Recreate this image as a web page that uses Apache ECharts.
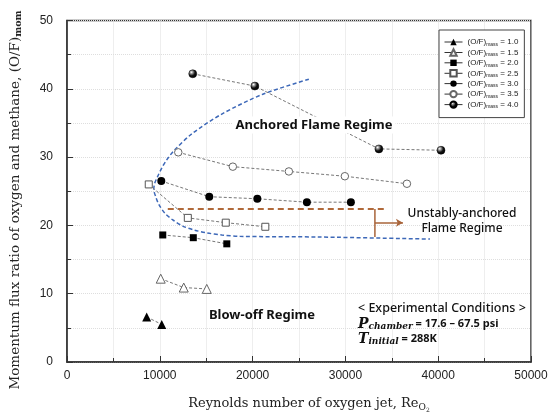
<!DOCTYPE html>
<html><head><meta charset="utf-8">
<script src="https://cdn.jsdelivr.net/npm/echarts@6/dist/echarts.min.js"></script>
<style>html,body{margin:0;padding:0;background:#fff}#c{width:553px;height:418px}</style>
</head><body><div id="c"></div>
<script>
// ---- data (Re_O2, (O/F)_mom) ----
const legendNames = ['1.0','1.5','2.0','2.5','3.0','3.5','4.0'];
const re_10 = [8590, 10210];                 const mom_10 = [6.6, 5.5];
const re_15 = [10100, 12580, 15060];         const mom_15 = [12.2, 10.9, 10.7];
const re_20 = [10320, 13610, 17220];         const mom_20 = [18.6, 18.2, 17.3];
const re_25 = [8810, 13020, 17110, 21370];   const mom_25 = [26.0, 21.1, 20.4, 19.8];
const re_30 = [10160, 15330, 20510, 25850, 30590]; const mom_30 = [26.5, 24.2, 23.9, 23.4, 23.4];
const re_35 = [11990, 17870, 23910, 29940, 36630]; const mom_35 = [30.7, 28.6, 27.9, 27.2, 26.1];
const re_40 = [13550, 20240, 33610, 40300];  const mom_40 = [42.2, 40.4, 31.2, 31.0];
// regime boundary (blue dashed)
const boundaryRe  = [26060, 21100, 16680, 13450, 11500, 10750, 10210, 9780, 9460, 9350, 9560, 9890, 10540, 11400, 12480, 13770, 15060, 16680, 18620, 27250, 39110];
const boundaryMom = [41.4, 39.2, 36.3, 33.4, 30.9, 29.6, 28.4, 27.2, 26.2, 25.3, 24.2, 23.1, 21.8, 20.8, 19.9, 19.3, 18.9, 18.6, 18.4, 18.3, 18.0];
// unstably-anchored limit (brown)
const unstableRe  = [10860, 34370];  const unstableMom = [22.4, 22.4];
const bracketRe   = [33180, 33180];  const bracketMom  = [22.4, 18.3];
const arrowRe     = [33180, 36200];  const arrowMom    = [20.4, 20.4];
const xTicks = [0, 10000, 20000, 30000, 40000, 50000];
const yTicks = [0, 10, 20, 30, 40, 50];

const zip = (a, b) => a.map((v, i) => [v, b[i]]);
const sans = '"Liberation Sans", Arial, sans-serif';
const serif = '"DejaVu Serif", serif';
const kfont = '"Noto Sans", sans-serif';
const dotLine = { color: '#777', width: 1, type: [3, 2] };

const sphere = { type: 'radial', x: 0.35, y: 0.32, r: 0.75,
  colorStops: [{ offset: 0, color: '#fff' }, { offset: 0.22, color: '#999' }, { offset: 0.55, color: '#111' }, { offset: 1, color: '#000' }] };

const defs = [
  { re: re_10, mom: mom_10, symbol: 'triangle', size: 9, item: { color: '#000' } },
  { re: re_15, mom: mom_15, symbol: 'triangle', size: 9, item: { color: '#fff', borderColor: '#666', borderWidth: 1 } },
  { re: re_20, mom: mom_20, symbol: 'rect', size: 7, item: { color: '#000' } },
  { re: re_25, mom: mom_25, symbol: 'rect', size: 7, item: { color: '#fff', borderColor: '#555', borderWidth: 1 } },
  { re: re_30, mom: mom_30, symbol: 'circle', size: 8, item: { color: '#000' } },
  { re: re_35, mom: mom_35, symbol: 'circle', size: 7.5, item: { color: '#fff', borderColor: '#666', borderWidth: 1 } },
  { re: re_40, mom: mom_40, symbol: 'circle', size: 8, item: { color: sphere, borderColor: '#000', borderWidth: 0.5 } }
];

const series = [
  { type: 'line', name: 'boundary', data: zip(boundaryRe, boundaryMom), smooth: 0.3, showSymbol: false, silent: true,
    lineStyle: { color: '#3d68b8', width: 1.5, type: [4, 2.5] }, z: 1 },
  { type: 'line', name: 'unstable', data: zip(unstableRe, unstableMom), showSymbol: false, silent: true,
    lineStyle: { color: '#b0693a', width: 2, type: [6, 4] }, z: 1 },
  { type: 'line', name: 'bracket', data: zip(bracketRe, bracketMom), showSymbol: false, silent: true,
    lineStyle: { color: '#a8643a', width: 1.5 }, z: 1 },
  { type: 'line', name: 'arrow', data: [], silent: true, z: 1,
    markLine: { silent: true, symbol: ['none', 'arrow'], symbolSize: [6, 7], label: { show: false },
      lineStyle: { color: '#a8643a', width: 1.5, type: 'solid' },
      data: [[{ coord: [arrowRe[0], arrowMom[0]] }, { coord: [arrowRe[1], arrowMom[1]] }]] } }
];
defs.forEach((d, i) => series.push({
  type: 'line', name: legendNames[i], data: zip(d.re, d.mom), symbol: d.symbol, symbolSize: d.size,
  showAllSymbol: true, itemStyle: d.item, lineStyle: dotLine, z: 3
}));

const chart = echarts.init(document.getElementById('c'), null, { renderer: 'canvas' });
chart.setOption({
  animation: false,
  backgroundColor: '#fff',
  grid: { left: 67, right: 22, top: 20.5, bottom: 56, show: true, borderColor: '#333', borderWidth: 1.5, backgroundColor: 'transparent' },
  xAxis: {
    type: 'value', min: xTicks[0], max: xTicks[xTicks.length - 1], interval: xTicks[1] - xTicks[0],
    axisLine: { show: true, lineStyle: { color: '#333', width: 1.5 } },
    axisTick: { show: true, inside: true, length: 6, lineStyle: { color: '#333' } },
    minorTick: { show: true, splitNumber: 2, length: 4, lineStyle: { color: '#333' } },
    splitLine: { show: true, lineStyle: { color: '#dedede', type: 'dotted' } },
    minorSplitLine: { show: true, lineStyle: { color: '#dedede', type: 'dotted' } },
    axisLabel: { margin: 8, fontFamily: sans, fontSize: 12, color: '#222', formatter: v => String(v) }
  },
  yAxis: {
    type: 'value', min: yTicks[0], max: yTicks[yTicks.length - 1], interval: yTicks[1] - yTicks[0],
    axisLine: { show: true, lineStyle: { color: '#333', width: 1.5 } },
    axisTick: { show: true, inside: true, length: 6, lineStyle: { color: '#333' } },
    minorTick: { show: true, splitNumber: 2, length: 4, lineStyle: { color: '#333' } },
    splitLine: { show: true, lineStyle: { color: '#dedede', type: 'dotted' } },
    minorSplitLine: { show: true, lineStyle: { color: '#dedede', type: 'dotted' } },
    axisLabel: { margin: 14, fontFamily: sans, fontSize: 12, color: '#222', formatter: v => String(v) }
  },
  legend: {
    data: legendNames, orient: 'vertical', left: 439, top: 30,
    itemWidth: 18, itemHeight: 8, itemGap: 1.3, padding: [8, 6, 8, 5],
    borderColor: '#444', borderWidth: 1, backgroundColor: '#fff',
    lineStyle: { color: '#333', width: 1, type: 'solid' },
    formatter: n => '(O/F){s|mass} = ' + n,
    textStyle: { fontFamily: sans, fontSize: 8, color: '#222',
      rich: { s: { fontFamily: sans, fontSize: 5, color: '#222', padding: [5, 0, 0, 0] } } }
  },
  series: series,
  graphic: [
    { type: 'text', x: 15, y: 200, rotation: Math.PI / 2, z: 100,
      style: { text: '{t|Momentum flux ratio of oxygen and methane, (O/F)}{s|mom}', align: 'center', verticalAlign: 'middle',
        rich: { t: { font: '13.5px ' + serif, fill: '#222' }, s: { font: 'bold 9.5px ' + serif, fill: '#222', padding: [7, 0, 0, 0] } } } },
    { type: 'text', x: 309, y: 404, z: 100,
      style: { text: '{t|Reynolds number of oxygen jet, Re}{s|O}{u|2}', align: 'center', verticalAlign: 'middle',
        rich: { t: { font: '13px ' + serif, fill: '#222' }, s: { font: '9px ' + serif, fill: '#222', padding: [7, 0, 0, 0] },
          u: { font: '6px ' + serif, fill: '#222', padding: [12, 0, 0, 0] } } } },
    { type: 'text', x: 314, y: 125, z: 100,
      style: { text: 'Anchored Flame Regime', align: 'center', verticalAlign: 'middle', font: 'bold 13px ' + kfont, fill: '#111',
        backgroundColor: '#fff', padding: [2, 3] } },
    { type: 'text', x: 262, y: 315, z: 100,
      style: { text: 'Blow-off Regime', align: 'center', verticalAlign: 'middle', font: 'bold 13px ' + kfont, fill: '#111' } },
    { type: 'text', x: 462, y: 221, z: 100,
      style: { text: 'Unstably-anchored\nFlame Regime', align: 'center', verticalAlign: 'middle', font: '500 12px ' + kfont, fill: '#111', lineHeight: 15 } },
    { type: 'text', x: 358, y: 308, z: 100,
      style: { text: '< Experimental Conditions >', align: 'left', verticalAlign: 'middle', font: '500 12.5px ' + kfont, fill: '#111' } },
    { type: 'text', x: 358, y: 324, z: 100,
      style: { text: '{p|P}{s|chamber}{t| = 17.6 – 67.5 psi}', align: 'left', verticalAlign: 'middle',
        rich: { p: { font: 'italic bold 14px ' + serif, fill: '#111' }, s: { font: 'italic bold 9px ' + serif, fill: '#111', padding: [6, 0, 0, 0] },
          t: { font: 'bold 11px ' + kfont, fill: '#111' } } } },
    { type: 'text', x: 358, y: 339, z: 100,
      style: { text: '{p|T}{s|initial}{t| = 288K}', align: 'left', verticalAlign: 'middle',
        rich: { p: { font: 'italic bold 14px ' + serif, fill: '#111' }, s: { font: 'italic bold 9px ' + serif, fill: '#111', padding: [6, 0, 0, 0] },
          t: { font: 'bold 11px ' + kfont, fill: '#111' } } } }
  ]
});
</script></body></html>
